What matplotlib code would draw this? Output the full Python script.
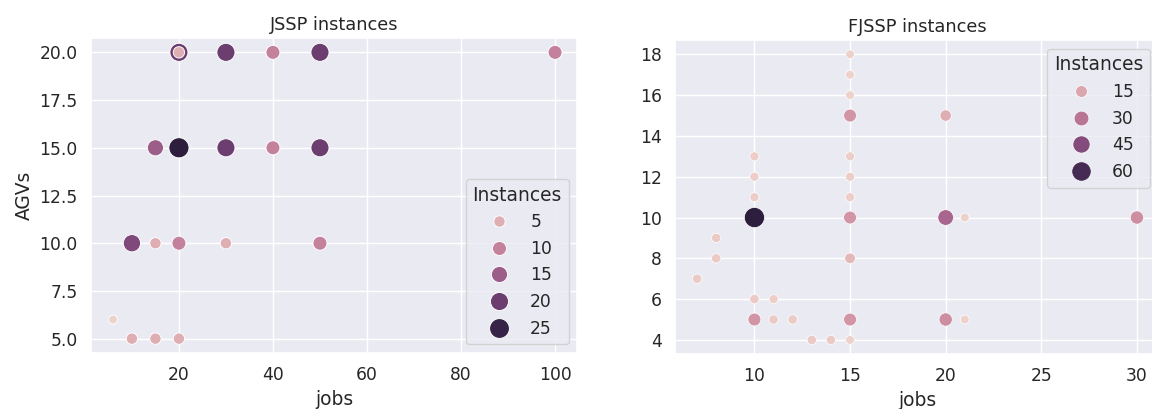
import matplotlib
matplotlib.use("Agg")
import matplotlib.pyplot as plt
from matplotlib.ticker import MultipleLocator, StrMethodFormatter
import pandas as pd
import seaborn as sns

# JSSP benchmark sets: number of jobs, number of AGVs, instance count
jssp_jobs = [6, 10, 15, 20, 10, 15, 20, 30, 50, 15, 20, 30, 40, 50, 20, 20, 30, 40, 50, 100]
jssp_agvs = [6, 5, 5, 5, 10, 10, 10, 10, 10, 15, 15, 15, 15, 15, 20, 20, 20, 20, 20, 20]
jssp_inst = [1, 5, 5, 5, 18, 5, 10, 5, 10, 15, 26, 20, 10, 20, 20, 5, 20, 10, 20, 10]

# FJSSP benchmark sets
fjssp_jobs = [7, 8, 8, 10, 10, 10, 10, 10, 10, 11, 11, 12, 13, 14, 15,
              15, 15, 15, 15, 15, 15, 15, 15, 15, 15, 20, 20, 20, 21, 21, 30]
fjssp_agvs = [7, 8, 9, 5, 6, 10, 11, 12, 13, 5, 6, 5, 4, 4, 4,
              5, 8, 10, 11, 12, 13, 15, 16, 17, 18, 5, 10, 15, 5, 10, 10]
fjssp_inst = [5, 5, 5, 20, 5, 66, 4, 4, 4, 5, 4, 5, 5, 5, 3,
              20, 10, 20, 4, 4, 4, 20, 3, 3, 3, 22, 35, 13, 3, 3, 22]

jssp = pd.DataFrame({"jobs": jssp_jobs, "AGVs": jssp_agvs, "Instances": jssp_inst})
fjssp = pd.DataFrame({"jobs": fjssp_jobs, "AGVs": fjssp_agvs, "Instances": fjssp_inst})

sns.set_theme(style="darkgrid", font_scale=1.12)
plt.rcParams["font.family"] = ["DejaVu Sans"]

fig = plt.figure(figsize=(11.52, 4.09), dpi=100)
ax1 = fig.add_axes([0.079, 0.137, 0.422, 0.770])
ax2 = fig.add_axes([0.586, 0.134, 0.420, 0.768])

sns.scatterplot(data=jssp, x="jobs", y="AGVs", hue="Instances", size="Instances",
                sizes=(40, 210), ax=ax1)
ax1.set_title("JSSP instances", fontsize=12.8)
ax1.yaxis.set_major_locator(MultipleLocator(2.5))
ax1.yaxis.set_major_formatter(StrMethodFormatter("{x:.1f}"))
sns.move_legend(ax1, "lower right")

sns.scatterplot(data=fjssp, x="jobs", y="AGVs", hue="Instances", size="Instances",
                sizes=(40, 210), ax=ax2)
ax2.set_title("FJSSP instances", fontsize=12.8)
ax2.set_ylabel("")
sns.move_legend(ax2, "upper right")

fig.savefig("out.png", dpi=100)
